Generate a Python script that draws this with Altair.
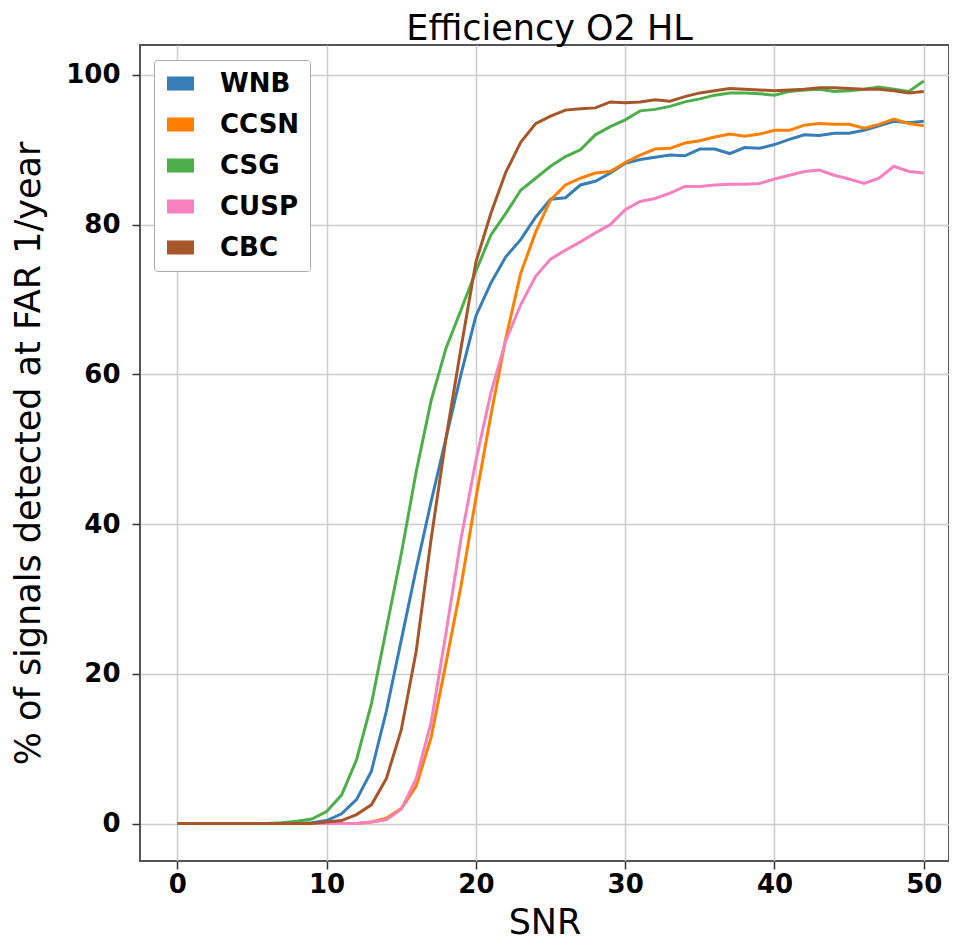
import altair as alt
import pandas as pd

snr = list(range(0, 51))

wnb = [0, 0, 0, 0, 0, 0, 0, 0, 0, 0.1,
       0.4, 1.3, 3.2, 7, 15, 24.5, 34, 43, 51.5, 60,
       67.8, 72.2, 75.7, 78, 81, 83.4, 83.6, 85.3, 85.8, 86.9,
       88.2, 88.7, 89, 89.3, 89.2, 90.1, 90.1, 89.5, 90.3, 90.2,
       90.7, 91.4, 92, 91.9, 92.2, 92.2, 92.6, 93.2, 93.8, 93.6, 93.8]
ccsn = [0, 0, 0, 0, 0, 0, 0, 0, 0, 0,
        0, 0, 0, 0.2, 0.7, 2, 5, 11.5, 21.5, 31.7,
        43.5, 54.5, 64.8, 73.5, 79, 83.3, 85.3, 86.2, 86.9, 87.1,
        88.3, 89.3, 90.1, 90.2, 90.9, 91.2, 91.7, 92.1, 91.8, 92.1,
        92.6, 92.6, 93.3, 93.5, 93.4, 93.4, 92.9, 93.4, 94.1, 93.5, 93.2]
csg = [0, 0, 0, 0, 0, 0, 0, 0.1, 0.3, 0.6,
       1.6, 3.8, 8.5, 16, 26, 36, 47, 56.5, 63.5, 68.6,
       73.8, 78.6, 81.5, 84.6, 86.2, 87.8, 89.1, 90, 92, 93.1,
       94, 95.2, 95.4, 95.8, 96.4, 96.8, 97.3, 97.6, 97.6, 97.5,
       97.3, 97.8, 98, 98.1, 97.8, 97.9, 98.1, 98.4, 98.1, 97.8, 99.2]
cusp = [0, 0, 0, 0, 0, 0, 0, 0, 0, 0,
        0, 0, 0, 0.2, 0.5, 1.9, 6, 13.5, 25.5, 38,
        48.5, 57.5, 64.5, 69.3, 73.1, 75.4, 76.6, 77.7, 78.9, 80,
        82, 83.1, 83.5, 84.2, 85.1, 85.1, 85.3, 85.4, 85.4, 85.5,
        86.1, 86.6, 87.1, 87.3, 86.6, 86.1, 85.5, 86.2, 87.8, 87.1, 86.9]
cbc = [0, 0, 0, 0, 0, 0, 0, 0, 0, 0,
       0.2, 0.4, 1.2, 2.5, 6, 12.5, 23, 38, 51.5, 63.5,
       75, 81.5, 87, 91, 93.5, 94.5, 95.3, 95.5, 95.6, 96.4,
       96.3, 96.4, 96.7, 96.5, 97.1, 97.6, 97.9, 98.2, 98.1, 98,
       97.9, 98, 98.1, 98.3, 98.3, 98.2, 98.1, 98.1, 97.9, 97.6, 97.8]

names = ["WNB", "CCSN", "CSG", "CUSP", "CBC"]
colors = ["#377eb8", "#ff7f00", "#4daf4a", "#f781bf", "#a65628"]
series = [wnb, ccsn, csg, cusp, cbc]

x_ticks = [0, 10, 20, 30, 40, 50]
y_ticks = [0, 20, 40, 60, 80, 100]

rows = []
for i, (name, vals) in enumerate(zip(names, series)):
    for s, v in zip(snr, vals):
        rows.append({"SNR": s, "eff": v, "signal": name, "order": i})
df = pd.DataFrame(rows)

rect_path = "M-1,-0.52L1,-0.52L1,0.52L-1,0.52Z"

x_enc = alt.X("SNR:Q",
              scale=alt.Scale(domain=[-2.5, 51.69], nice=False, zero=False),
              axis=alt.Axis(values=x_ticks, title="SNR", format="d"))
y_enc = alt.Y("eff:Q",
              scale=alt.Scale(domain=[-5, 104], nice=False, zero=False),
              axis=alt.Axis(values=y_ticks, title="% of signals detected at FAR 1/year", format="d"))
color_scale = alt.Scale(domain=names, range=colors)

base = alt.Chart(df)

legend_pts = base.mark_point(filled=True, size=0, shape=rect_path, strokeWidth=0, opacity=1).encode(
    x=x_enc, y=y_enc,
    color=alt.Color("signal:N", scale=color_scale, sort=names,
                    legend=alt.Legend(title=None, orient="none", legendX=14, legendY=15,
                                      symbolType=rect_path, symbolSize=729, symbolStrokeWidth=0,
                                      symbolOpacity=1, symbolOffset=3,
                                      labelFont="DejaVu Sans", labelFontWeight="bold",
                                      labelFontSize=26, labelColor="#000",
                                      labelOffset=26, rowPadding=14, padding=10,
                                      strokeColor="#aaaaaa", fillColor="white",
                                      cornerRadius=3)),
)

lines = base.mark_line(strokeWidth=3).encode(
    x=x_enc, y=y_enc,
    color=alt.Color("signal:N", scale=color_scale, sort=names, legend=None),
    detail="order:O",
    order="order:Q",
)

chart = alt.layer(legend_pts, lines).properties(
    width=809,
    height=816,
    title=alt.TitleParams("Efficiency O2 HL", font="DejaVu Sans", fontSize=35,
                          fontWeight="normal", color="#000", anchor="middle",
                          offset=-2, dx=5),
    autosize=alt.AutoSizeParams(type="none"),
    padding={"left": 132, "top": 37, "right": 0, "bottom": 81},
).configure_view(
    stroke="#555", strokeWidth=2
).configure_axis(
    grid=True, gridColor="#cccccc", gridWidth=1.5,
    domain=False,
    ticks=True, tickSize=8, tickWidth=1.5, tickColor="#333",
    labelFont="DejaVu Sans", labelFontWeight="bold", labelFontSize=26, labelColor="#000",
    titleFont="DejaVu Sans", titleFontWeight="normal", titleFontSize=35, titleColor="#000",
).configure_axisX(
    labelPadding=2, titlePadding=8
).configure_axisY(
    labelPadding=12, titlePadding=19
)

chart.save("out.html", embed_options={"renderer": "svg", "actions": False})
